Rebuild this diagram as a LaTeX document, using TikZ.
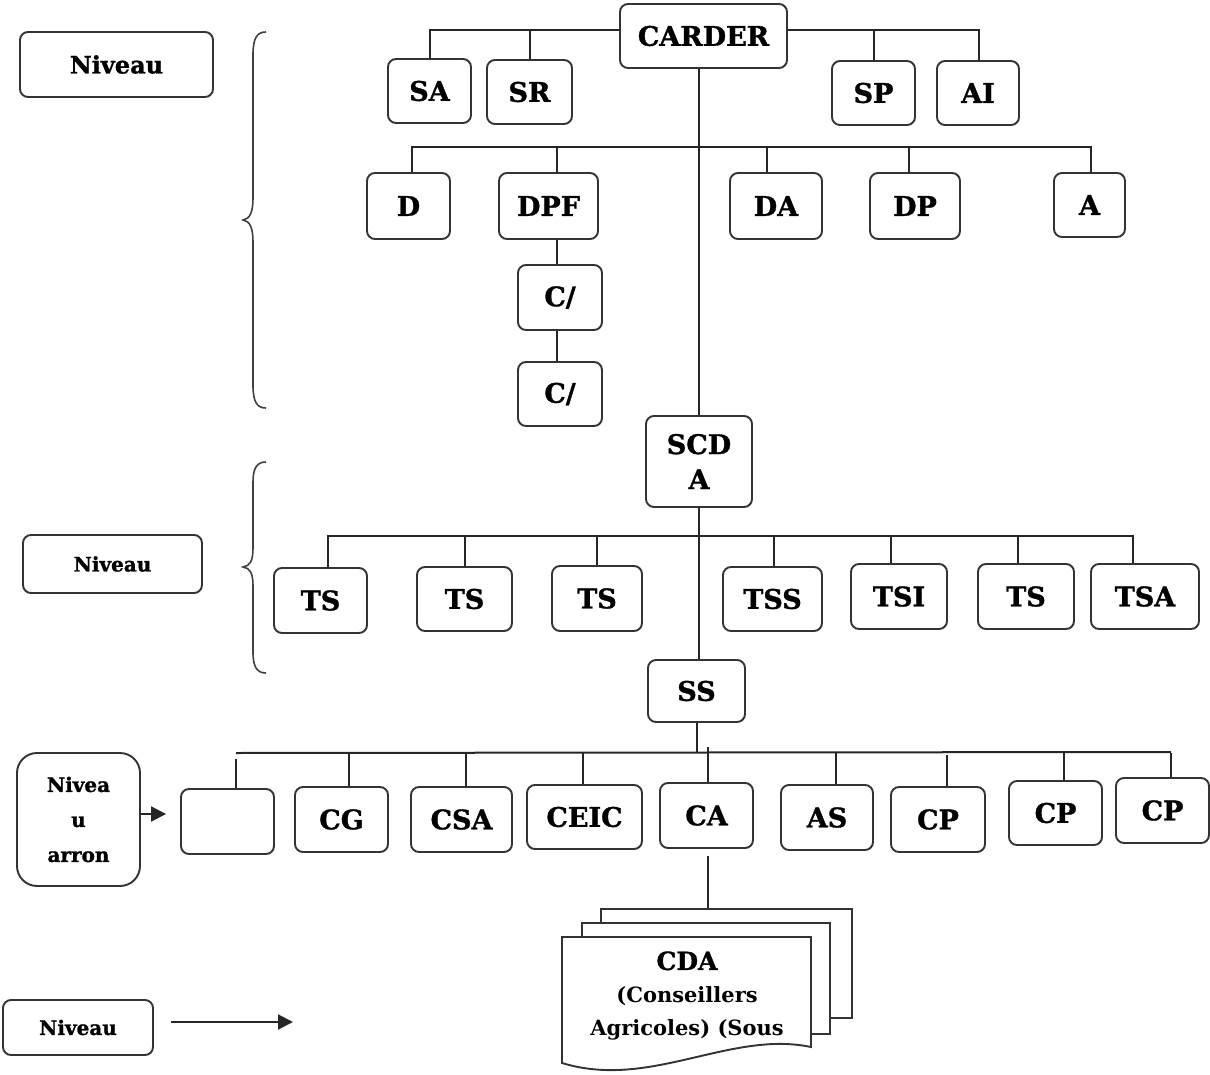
\documentclass[tikz,border=0pt]{standalone}
\usepackage{fontspec}
\setmainfont{DejaVu Serif}
\newfontfamily\heavyfont{DejaVu Serif}[FakeBold=1.2]
\usetikzlibrary{arrows.meta}
\newcommand\lblfont{\heavyfont\fontsize{27}{35}\selectfont\bfseries}
\newcommand\nivfont{\heavyfont\fontsize{20}{35}\selectfont\bfseries}
\newcommand\nivbigfont{\heavyfont\fontsize{24}{30}\selectfont\bfseries}
\newcommand\cdafont{\fontsize{21}{33}\selectfont\bfseries}
\begin{document}
\begin{tikzpicture}[x=1pt,y=-1pt,
  bx/.style={draw=black!80, line width=1.9pt, rounded corners=8pt, inner sep=0pt, align=center, font=\lblfont},
  nv/.style={bx, font=\nivfont},
  ln/.style={draw=black!85, line width=2pt},
  brace/.style={draw=black!75, line width=1.6pt},
  doc/.style={draw=black!80, line width=1.9pt, fill=white},
  arr/.style={ln, -{Triangle[length=15pt,width=15pt]}}]
\useasboundingbox (0,0) rectangle (1210,1075);

% ---- left column ----
\node[nv, font=\nivbigfont, minimum width=193pt, minimum height=65pt] (N1) at (116.5,64.5) {Niveau};
\node[nv, minimum width=179pt, minimum height=58pt] (N2) at (112.5,564) {Niveau};
\node[nv, rounded corners=20pt, minimum width=123pt, minimum height=133pt] (N3) at (78.5,819.5) {Nivea\\u\\arron};
\node[nv, minimum width=150pt, minimum height=55pt] (N4) at (78,1027.5) {Niveau};

% braces
\draw[brace] (266,32) .. controls (257,32) and (253,38) .. (253,55) -- (253,198)
  .. controls (253,212) and (250,219) .. (243,220)
  .. controls (250,221) and (253,228) .. (253,242) -- (253,385)
  .. controls (253,402) and (257,408) .. (266,408);
\draw[brace] (266,462) .. controls (257,462) and (253,468) .. (253,482) -- (253,548)
  .. controls (253,561) and (250,566) .. (243,567)
  .. controls (250,568) and (253,573) .. (253,586) -- (253,652)
  .. controls (253,667) and (257,673) .. (266,673);

% ---- top level ----
\node[bx, minimum width=167pt, minimum height=64pt] (CARDER) at (703.5,36) {CARDER};
\node[bx, minimum width=83pt, minimum height=64pt] (SA) at (429.5,91) {SA};
\node[bx, minimum width=85pt, minimum height=64pt] (SR) at (529.5,92) {SR};
\node[bx, minimum width=83pt, minimum height=64pt] (SP) at (873.5,93) {SP};
\node[bx, minimum width=82pt, minimum height=64pt] (AI) at (978,93) {AI};

\node[bx, minimum width=83pt, minimum height=66pt] (D) at (408.5,206) {D};
\node[bx, minimum width=99pt, minimum height=66pt] (DPF) at (548.5,206) {DPF};
\node[bx, minimum width=92pt, minimum height=66pt] (DA) at (776,206) {DA};
\node[bx, minimum width=90pt, minimum height=66pt] (DP) at (915,206) {DP};
\node[bx, minimum width=71pt, minimum height=64pt] (A) at (1089.5,205) {A};
\node[bx, minimum width=84pt, minimum height=65pt] (C1) at (560,297.5) {C/};
\node[bx, minimum width=84pt, minimum height=64pt] (C2) at (560,394) {C/};

\node[bx, minimum width=106pt, minimum height=91pt] (SCDA) at (699,461.5) {SCD\\A};

\node[bx, minimum width=93pt, minimum height=65pt] (TS1) at (320.5,600.5) {TS};
\node[bx, minimum width=95pt, minimum height=64pt] (TS2) at (464.5,599) {TS};
\node[bx, minimum width=90pt, minimum height=65pt] (TS3) at (597,598.5) {TS};
\node[bx, minimum width=99pt, minimum height=64pt] (TSS) at (772.5,599) {TSS};
\node[bx, minimum width=96pt, minimum height=65pt] (TSI) at (899,596.5) {TSI};
\node[bx, minimum width=96pt, minimum height=65pt] (TS4) at (1026,596.5) {TS};
\node[bx, minimum width=108pt, minimum height=65pt] (TSA) at (1145,596.5) {TSA};

\node[bx, minimum width=97pt, minimum height=62pt] (SS) at (696.5,691) {SS};

\node[bx, minimum width=93pt, minimum height=65pt] (E) at (227.5,821.5) {};
\node[bx, minimum width=93pt, minimum height=65pt] (CG) at (341.5,819.5) {CG};
\node[bx, minimum width=101pt, minimum height=65pt] (CSA) at (461.5,819.5) {CSA};
\node[bx, minimum width=115pt, minimum height=64pt] (CEIC) at (584.5,817) {CEIC};
\node[bx, minimum width=93pt, minimum height=65pt] (CA) at (706.5,815.5) {CA};
\node[bx, minimum width=92pt, minimum height=65pt] (AS) at (827,817.5) {AS};
\node[bx, minimum width=94pt, minimum height=65pt] (CP1) at (938,819.5) {CP};
\node[bx, minimum width=93pt, minimum height=64pt] (CP2) at (1055.5,813) {CP};
\node[bx, minimum width=93pt, minimum height=65pt] (CP3) at (1162.5,810.5) {CP};

% ---- connectors ----
\coordinate (tb) at ([yshift=6pt]CARDER.west);
\draw[ln] ([yshift=6pt]CARDER.west) -| (SA.north);
\draw[ln] (SR.north) -- (SR.north |- tb);
\draw[ln] ([yshift=6pt]CARDER.east) -| ([xshift=1pt]AI.north);
\draw[ln] (SP.north) -- (SP.north |- tb);
\draw[ln] (SCDA.north |- CARDER.south) -- (SCDA.north);

\coordinate (b2) at (699,147);
\draw[ln] ([xshift=3.5pt]D.north) -- ([xshift=3.5pt]D.north |- b2) -- ([xshift=1.5pt]A.north |- b2) -- ([xshift=1.5pt]A.north);
\draw[ln] ([xshift=8.5pt]DPF.north) -- ([xshift=8.5pt]DPF.north |- b2);
\draw[ln] ([xshift=-9pt]DA.north) -- ([xshift=-9pt]DA.north |- b2);
\draw[ln] ([xshift=-6pt]DP.north) -- ([xshift=-6pt]DP.north |- b2);
\draw[ln] ([xshift=-3pt]C1.north) -- ([xshift=-3pt]C1.north |- DPF.south);
\draw[ln] ([xshift=-3pt]C2.north) -- ([xshift=-3pt]C1.south);

\draw[ln] (SCDA.south) -- (SCDA.south |- SS.north);

\coordinate (b3) at (699,536);
\draw[ln] ([xshift=7.5pt]TS1.north) -- ([xshift=7.5pt]TS1.north |- b3) -- ([xshift=-12pt]TSA.north |- b3) -- ([xshift=-12pt]TSA.north);
\draw[ln] (TS2.north) -- (TS2.north |- b3);
\draw[ln] (TS3.north) -- (TS3.north |- b3);
\draw[ln] ([xshift=1.5pt]TSS.north) -- ([xshift=1.5pt]TSS.north |- b3);
\draw[ln] ([xshift=-8pt]TSI.north) -- ([xshift=-8pt]TSI.north |- b3);
\draw[ln] ([xshift=-8pt]TS4.north) -- ([xshift=-8pt]TS4.north |- b3);

\coordinate (b4) at (697,753);
\draw[ln] (SS.south) -- (SS.south |- b4);
\draw[ln] (236,753) -- (1171,752);
\draw[ln] ([xshift=8.5pt]E.north) -- ++(0,-29);
\draw[ln] ([xshift=7.5pt]CG.north) -- ([xshift=7.5pt]CG.north |- b4);
\draw[ln] ([xshift=4.5pt]CSA.north) -- ([xshift=4.5pt]CSA.north |- b4);
\draw[ln] ([xshift=-1.5pt]CEIC.north) -- ([xshift=-1.5pt]CEIC.north |- b4);
\draw[ln] ([xshift=1.5pt]CA.north) -- ++(0,-35);
\draw[ln] ([xshift=9pt]AS.north) -- ([xshift=9pt]AS.north |- b4);
\draw[ln] ([xshift=9pt]CP1.north) -- ++(0,-31);
\draw[ln] ([xshift=8.5pt]CP2.north) -- ([xshift=8.5pt]CP2.north |- b4);
\draw[ln] ([xshift=8.5pt]CP3.north) -- ([xshift=8.5pt]CP3.north |- b4);

% ---- document stack ----
\coordinate (docTop) at (708,909);
\draw[ln] ([xshift=1.5pt,yshift=-7pt]CA.south) -- (docTop);
\draw[doc] (601,923) -- (601,909) -- (852,909) -- (852,1018) -- (830,1018);
\draw[doc] (582,937) -- (582,923) -- (830,923) -- (830,1034) -- (811,1034);
\draw[doc] (562,937) -- (811,937) -- (811,1047)
  .. controls (730,1030) and (650,1090) .. (562,1063) -- cycle;
\node[font=\cdafont, align=center] (CDA) at (687,996) {{\heavyfont\fontsize{25}{33}\selectfont\bfseries CDA}\\(Conseillers\\Agricoles) (Sous};

% ---- arrows ----
\draw[arr] ([yshift=5.5pt]N3.east) -- ([xshift=-14pt,yshift=7.5pt]E.west);
\coordinate (n4end) at (293,1022);
\draw[arr] ([xshift=17pt,yshift=5.5pt]N4.east) -- (n4end);
\end{tikzpicture}
\end{document}
